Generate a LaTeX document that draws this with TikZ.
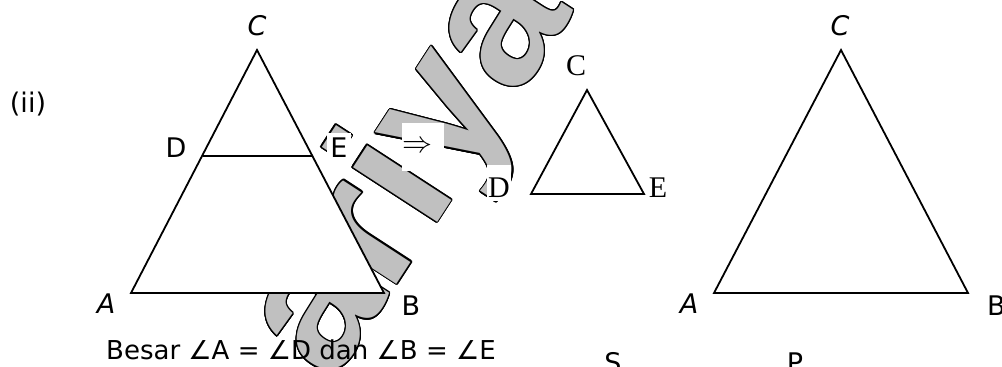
\documentclass[tikz,border=0pt]{standalone}
\usepackage{fontspec}
\newfontfamily\labfont{DejaVu Sans}
\newfontfamily\tmsfont{Liberation Serif}
\newfontfamily\wmfont{Liberation Sans}
\definecolor{wmgray}{HTML}{C0C0C0}
\begin{document}
\begin{tikzpicture}[x=1pt,y=-1pt,
  lab/.style={font={\labfont\fontsize{27}{32}\selectfont}, inner sep=0pt, anchor=base},
  labit/.style={font={\labfont\itshape\fontsize{27}{32}\selectfont}, inner sep=0pt, anchor=base},
  tlab/.style={font={\tmsfont\fontsize{30}{34}\selectfont}, inner sep=0pt, anchor=base},
  wm/.style={font={\wmfont\bfseries\fontsize{190}{200}\selectfont}, rotate=57, inner sep=0pt, anchor=center},
  tri/.style={draw=black, fill=white, line width=1.8pt, line join=miter},
  seg/.style={draw=black, line width=1.8pt}]
\useasboundingbox (0,0) rectangle (1002,367);
\clip (0,0) rectangle (1002,367);
% watermark
\foreach \ang [count=\i] in {0,22.5,...,337.5}{
  \node[wm, text=black, shift={(\ang:1.3pt)}] (wmc\i) at (412,171) {ariya};
}
\node[wm, text=wmgray] (wmark) at (412,171) {ariya};
% label E with white background (drawn before the triangle)
\node[lab, fill=white, inner xsep=3pt, text height=24pt, text depth=6pt] (lE1) at (339,157) {E};
% left triangle
\coordinate (A1) at (131,293);
\coordinate (B1) at (384,293);
\coordinate (C1) at (257,50);
\coordinate (D1) at (203,156);
\coordinate (E1) at (312,156);
\draw[tri] (A1) -- (B1) -- (C1) -- cycle;
\draw[seg] (D1) -- (E1);
\node[labit] (lC1) at (257,35) {C};
\node[lab] (lD1) at (176,157) {D};
\node[labit] (lA1) at (106,313) {A};
\node[lab] (lB1) at (411,315) {B};
\node[lab] (lii) at (28,112) {(ii)};
% arrow with white box
\node[fill=white, minimum width=42pt, minimum height=48pt, inner sep=0pt] (arrbox) at (423,147) {};
\node[anchor=west, inner sep=0pt, scale=3, transform shape] (arr) at (402,147) {$\Rightarrow$};
% small triangle
\coordinate (D2) at (531,194);
\coordinate (E2) at (644,194);
\coordinate (C2) at (587,90);
\draw[tri] (D2) -- (E2) -- (C2) -- cycle;
\node[tlab] (lC2) at (576,75) {C};
\node[tlab, fill=white, text height=32pt, text depth=4pt, inner xsep=1pt] (lD2) at (499,197) {D};
\node[tlab] (lE2) at (658,197) {E};
% right triangle
\coordinate (A3) at (714,293);
\coordinate (B3) at (968,293);
\coordinate (C3) at (841,50);
\draw[tri] (A3) -- (B3) -- (C3) -- cycle;
\node[labit] (lC3) at (840,35) {C};
\node[labit] (lA3) at (689,313) {A};
\node[lab, anchor=base west] (lB3) at (987,315) {B};
% bottom text
\node[lab, anchor=base west, font={\labfont\fontsize{26}{30}\selectfont}] (besar) at (106,359) {Besar ∠A = ∠D dan ∠B = ∠E};
\node[lab] (lS) at (613,372) {S};
\node[lab] (lP) at (795,372) {P};
\end{tikzpicture}
\end{document}
